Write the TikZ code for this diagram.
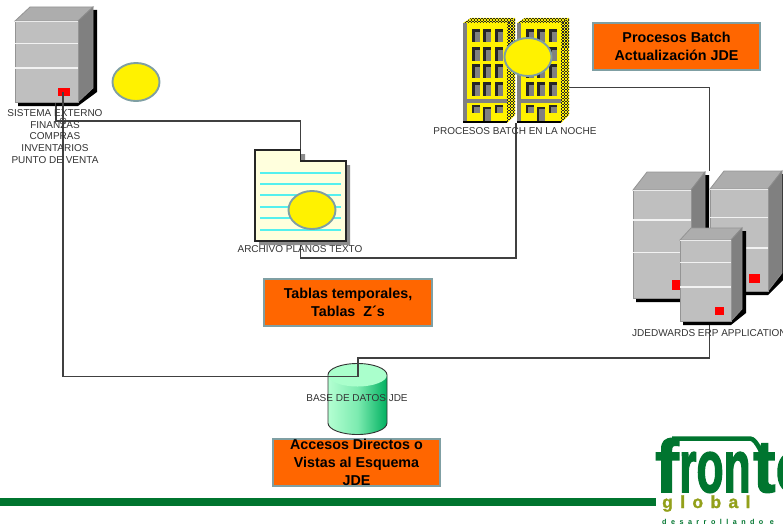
\documentclass[tikz,border=0pt]{standalone}
\usepackage{fontspec}
\setmainfont{Liberation Sans}
\newfontfamily\globalfont[LetterSpace=42,FakeBold=1.5]{Liberation Sans Bold}
\newfontfamily\lemafont[LetterSpace=62]{Liberation Sans Bold}
\newfontfamily\logofont[FakeBold=2.2]{Liberation Sans Bold}
\usetikzlibrary{calc,shapes.geometric}
\definecolor{edgeblue}{HTML}{7F9FA3}
\definecolor{boxorange}{HTML}{FF6600}
\definecolor{barverde}{HTML}{00752F}
\definecolor{olivo}{HTML}{93A01A}
\definecolor{labelgray}{HTML}{333333}
\definecolor{papel}{HTML}{FFFFDD}
\definecolor{aqua}{HTML}{55F0EE}
\definecolor{cylleft}{HTML}{B4FFD2}
\definecolor{cylmid}{HTML}{7CEBB0}
\definecolor{cylright}{HTML}{00B060}
\definecolor{cyltop}{HTML}{AAFFCC}
\tikzset{
  conn/.style={draw=black!75,line width=1.3pt},
  lab/.style={text=labelgray,font=\fontsize{10}{11.8}\selectfont,inner sep=0pt,align=center},
  callout/.style={draw=edgeblue,line width=2.4pt,fill=boxorange,font=\fontsize{14.3}{18}\selectfont\bfseries,align=center,inner sep=0pt,text=black},
  spot/.style={draw=edgeblue,line width=1.9pt,fill=yellow,ellipse,minimum width=47pt,minimum height=38pt,inner sep=0pt},
  holder/.style={inner sep=0pt,outer sep=0pt,rectangle},
  logotext/.style={anchor=base west,inner sep=0pt,text=barverde,font=\logofont\fontsize{74}{74}\selectfont}
}
\newcommand{\srvunit}[6]{%
  \fill[black] (#1+3,#2+#4-1) -- (#1+3,#2+#4+4) -- (#1+#3,#2+#4+4) -- (#1+#3+#5+4,#2+#4-#6+4) -- (#1+#3+#5+4,#2-#6+3) -- (#1+#3+#5,#2-#6+3) -- cycle;
  \fill[black!32,draw=black!42,line width=.8pt] (#1,#2) -- (#1+#5,#2-#6) -- (#1+#3+#5,#2-#6) -- (#1+#3,#2) -- cycle;
  \fill[black!50,draw=black!45,line width=.8pt] (#1+#3,#2) -- (#1+#3+#5,#2-#6) -- (#1+#3+#5,#2+#4-#6) -- (#1+#3,#2+#4) -- cycle;
  \fill[black!25,draw=black!42,line width=.8pt] (#1,#2) rectangle (#1+#3,#2+#4);
  \draw[black!5,line width=1.5pt] (#1,#2+.28*#4) -- (#1+#3,#2+.28*#4);
  \draw[black!5,line width=1.5pt] (#1,#2+.58*#4) -- (#1+#3,#2+.58*#4);
  \draw[black!8,line width=1pt] (#1,#2+.7) -- (#1+#3,#2+.7);
  \fill[red] (#1+.68*#3,#2+.83*#4) rectangle (#1+.87*#3,#2+.925*#4);
}
\newcommand{\towerunit}[2]{%
  \fill[black!50] (#1,#2+5) rectangle (#1+44,#2+103);
  \fill[yellow] (#1+4,#2+5) rectangle (#1+44,#2+103);
  \fill[black!50] (#1,#2+81) rectangle (#1+44,#2+85);
  \fill[black] (#1,#2+103) rectangle (#1+44,#2+105);
  \begin{scope}
    \clip (#1+44,#2+5) -- (#1+52,#2) -- (#1+52,#2+97) -- (#1+44,#2+105) -- cycle;
    \fill[yellow] (#1+43,#2-1) rectangle (#1+53,#2+106);
    \foreach \k in {0,3,6}{\draw[black!85,line width=1.5pt,dash pattern=on 1.5pt off 1.5pt] (#1+44.7+\k,#2) -- (#1+44.7+\k,#2+106);}
    \foreach \k in {1.5,4.5,7.5}{\draw[black!85,line width=1.5pt,dash pattern=on 1.5pt off 1.5pt,dash phase=1.5pt] (#1+44.7+\k,#2) -- (#1+44.7+\k,#2+106);}
  \end{scope}
  \begin{scope}
    \clip (#1,#2+5) -- (#1+8,#2) -- (#1+52,#2) -- (#1+44,#2+5) -- cycle;
    \fill[yellow] (#1-1,#2-1) rectangle (#1+53,#2+6);
    \foreach \k in {0,3}{\draw[black!85,line width=1.5pt,dash pattern=on 1.5pt off 1.5pt] (#1,#2+\k+.3) -- (#1+53,#2+\k+.3);}
    \foreach \k in {1.5,4.5}{\draw[black!85,line width=1.5pt,dash pattern=on 1.5pt off 1.5pt,dash phase=1.5pt] (#1,#2+\k+.3) -- (#1+53,#2+\k+.3);}
  \end{scope}
  \foreach \wx in {9,20,32}{
    \foreach \wy in {11,29,46,64}{
      \fill[black!85] (#1+\wx,#2+\wy) rectangle (#1+\wx+8,#2+\wy+13.5);
      \fill[black!50] (#1+\wx+3,#2+\wy+3) rectangle (#1+\wx+8,#2+\wy+13.5);
    }
  }
  \foreach \wx in {9,32}{
    \fill[black!85] (#1+\wx,#2+87) rectangle (#1+\wx+8,#2+95);
    \fill[black!50] (#1+\wx+2,#2+89) rectangle (#1+\wx+8,#2+95);
  }
  \fill[black!85] (#1+20,#2+89) rectangle (#1+28,#2+103);
  \fill[black!50] (#1+22,#2+91) rectangle (#1+28,#2+103);
}
\begin{document}
\begin{tikzpicture}[x=1pt,y=-1pt]
\useasboundingbox (0,0) rectangle (783,527);
\clip (0,0) rectangle (783,527);
\fill[white] (0,0) rectangle (783,527);

% invisible holders for the equipment
\node[holder,minimum width=82pt,minimum height=98pt] (sistema) at (56,56) {};
\node[holder,minimum width=91pt,minimum height=91pt] (archivo) at (300.5,195.5) {};
\node[holder,minimum width=105pt,minimum height=105pt] (batch) at (516,70.5) {};
\node[holder,minimum width=153pt,minimum height=154pt] (jde) at (709.5,248) {};
\node[holder,minimum width=59pt,minimum height=72pt] (bd) at (358,399) {};
\coordinate (bdport) at (358,376.5);

% connectors
\draw[conn] (sistema.south) -- ++(0,16) -| (archivo.north);
\draw[conn] (archivo.south) -- ++(0,17) -| (batch.south);
\draw[conn] ([yshift=-17pt]batch.east) -| (jde.north);
\draw[conn] ([xshift=7pt,yshift=13pt]sistema.south) |- (bdport);
\draw[conn] (bd.north) -- ++(0,-5) -| (jde.south);
\draw[black!70,line width=.6pt] (63,121) circle (3.3);

% sistema externo
\srvunit{15}{21}{63}{81}{15}{14}
\draw[conn] (55.5,103) -- (55.5,108);
\draw[conn] (63,92) -- (63,108);

% archivo
\fill[black!45] (259,154) -- (305,154) -- (305,165) -- (350,165) -- (350,245) -- (259,245) -- cycle;
\draw[black!85,line width=1.1pt,fill=papel] (255,150) -- (300.5,150) -- (300.5,161) -- (346,161) -- (346,241) -- (255,241) -- cycle;
\foreach \ly in {173,184,195,207,218,230}{\draw[aqua,line width=1.3pt] (260,\ly) -- (341,\ly);}
\node[spot] (el2) at (312,210) {};

% edificios
\towerunit{463}{18}
\towerunit{517}{18}
\node[spot] (el3) at (528,57) {};
\node[spot] (el1) at (136,82) {};

% JDE servers
\srvunit{710}{189}{58}{102}{14}{18}
\srvunit{633}{190}{58}{108}{14}{18}
\srvunit{680}{240}{51}{81}{11}{12}

% base de datos
\shade[left color=cylleft,right color=cylright,middle color=cylmid] (328,375) -- (328,423) arc[start angle=180,end angle=0,x radius=29.5,y radius=11.5] -- (387,375) -- cycle;
\fill[cyltop] (357.5,375) ellipse[x radius=29.5,y radius=11.5];
\draw[black!80,line width=.9pt] (328,375) arc[start angle=180,end angle=360,x radius=29.5,y radius=11.5] -- (387,423) arc[start angle=0,end angle=180,x radius=29.5,y radius=11.5] -- cycle;
\draw[conn] (bdport) -- (bd.north) -- ++(0,-5);
\draw[conn] (300,376.5) -- (bdport);

% labels
\node[lab] (l1) at (55,136.5) {SISTEMA EXTERNO\\FINANZAS\\COMPRAS\\INVENTARIOS\\PUNTO DE VENTA};
\node[lab] (l2) at (300,249) {ARCHIVO PLANOS TEXTO};
\node[lab] (l3) at (515,131) {PROCESOS BATCH EN LA NOCHE};
\node[lab,anchor=west] (l4) at (632,333) {JDEDWARDS ERP APPLICATION};
\node[lab] (l5) at (357,398) {BASE DE DATOS JDE};

% footer bar
\fill[barverde] (0,498) rectangle (656,505.5);

% callouts
\node[callout,minimum width=167pt,minimum height=47pt] (c1) at (676.5,46.5) {Procesos Batch\\Actualización JDE};
\node[callout,minimum width=168pt,minimum height=47pt] (c2) at (348,302.5) {Tablas temporales,\\Tablas\ \ Z´s};
\node[callout,minimum width=167pt,minimum height=47pt] (c3) at (356.5,462.5) {Accesos Directos o\\Vistas al Esquema\\JDE};

% logo
\node[logotext] (lf) at (655,492) {\scalebox{.95}[1]{f}};
\node[logotext] (lr) at (679,492) {\scalebox{.6}[1]{ron}};
\node[logotext] (lt) at (753,492) {\scalebox{.9}[1]{te}};
\draw[barverde,line width=4.5pt] (672,438.5) -- (750,438.5) to[out=0,in=-90] (763,452);
\node[anchor=base west,inner sep=0pt,text=olivo,font=\globalfont\fontsize{17.5}{18}\selectfont] (lg) at (662,508) {global};
\node[anchor=base west,inner sep=0pt,text=barverde,font=\lemafont\fontsize{7.2}{8}\selectfont] (ld) at (662,524) {desarrollando e};
\end{tikzpicture}
\end{document}
